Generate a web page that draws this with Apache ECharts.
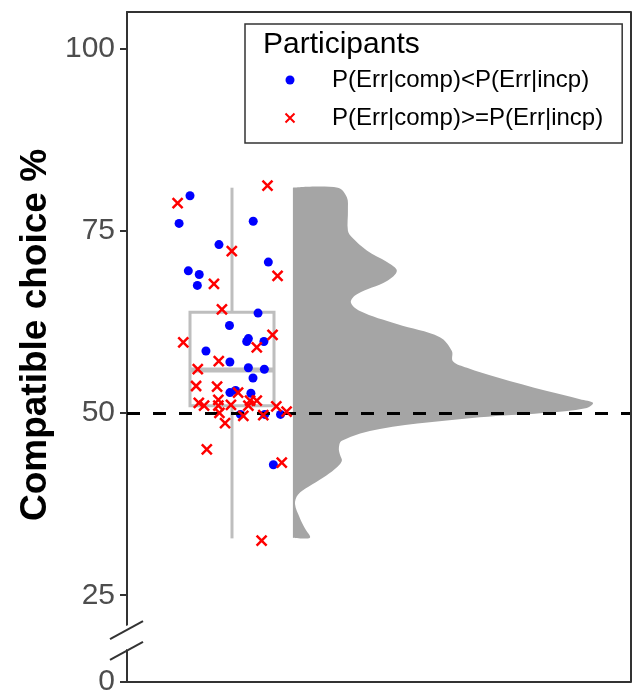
<!DOCTYPE html>
<html>
<head>
  <meta charset="utf-8">
  <title>Compatible choice</title>
  <script src="https://cdn.jsdelivr.net/npm/echarts@6/dist/echarts.min.js"></script>
</head>
<body style="margin:0">
<div id="main" style="width:635px;height:693px;"></div>
<script type="text/javascript">
  // y axis ticks
  var yTicks = [0, 25, 50, 75, 100];
  // axis break between 0 and 25
  var yBreak = { start: 4.4, end: 20.9, gap: 3.4 };

  // box: min, q1, median, q3, max
  var boxStats = [32.8, 51.0, 55.9, 63.8, 80.9];
  var boxCenter = 1;
  var boxHalf = 0.2;

  // participants, x = jittered position around 1
  var blueX = [0.800, 0.748, 1.101, 0.938, 1.173, 0.792, 0.844, 0.835, 1.124, 0.988, 1.078, 1.070, 1.152,
    0.876, 0.990, 1.078, 1.154, 1.100, 0.990, 1.017, 1.090, 1.231, 1.040, 1.156, 1.197];
  var blueY = [79.8, 76.0, 76.3, 73.1, 70.7, 69.5, 69.0, 67.5, 63.7, 62.0, 60.2, 59.8, 59.8,
    58.5, 57.0, 56.2, 56.0, 54.8, 52.8, 53.1, 52.7, 49.8, 49.8, 49.8, 42.9];
  var redX = [0.741, 1.169, 0.999, 1.217, 0.914, 0.952, 0.768, 1.193, 1.118, 0.937, 0.837, 0.829, 0.929,
    1.029, 0.842, 0.867, 0.935, 0.935, 0.995, 1.086, 1.118, 1.078, 1.211, 1.260, 0.940, 1.054, 1.149,
    0.967, 0.880, 1.237, 1.141];
  var redY = [78.8, 81.2, 72.2, 68.8, 67.7, 64.2, 59.7, 60.7, 59.0, 57.1, 56.0, 53.7, 53.6,
    52.8, 51.4, 51.0, 51.8, 51.0, 51.1, 51.7, 51.7, 51.0, 50.9, 50.2, 50.0, 49.6, 49.7,
    48.6, 45.0, 43.2, 32.5];

  // half violin (density width in x units)
  var violinBase = 1.29;
  var violinY = [80.9, 79.6, 77.8, 75.0, 74.1, 72.3, 70.7, 69.5, 68.1, 66.3, 65.2, 64.0, 62.2, 60.4,
    58.5, 57.1, 56.2, 54.9, 53.0, 51.9, 51.4, 50.7, 50.0, 49.4, 47.8, 46.2, 45.2, 44.3, 43.4, 42.3,
    41.1, 39.9, 38.8, 37.5, 35.6, 34.2, 32.9];
  var violinW = [0.214, 0.257, 0.262, 0.262, 0.281, 0.352, 0.448, 0.495, 0.448, 0.305, 0.276, 0.319, 0.495, 0.700,
    0.757, 0.762, 0.829, 0.971, 1.210, 1.367, 1.429, 1.400, 1.190, 0.890, 0.414, 0.233, 0.219, 0.224, 0.233, 0.200,
    0.143, 0.076, 0.024, 0.010, 0.033, 0.057, 0.081];

  var nameBlue = 'P(Err|comp)<P(Err|incp)';
  var nameRed = 'P(Err|comp)>=P(Err|incp)';
  var font = 'Liberation Sans, Arial, sans-serif';
  var crossPath = 'path://M0,0L10,10M10,0L0,10';
  var xMin = 0.5, xMax = 2.9, yMin = 0, yMax = 105;

  function pairs(xs, ys) {
    var out = [];
    for (var i = 0; i < xs.length; i++) out.push([xs[i], ys[i]]);
    return out;
  }

  var myChart = echarts.init(document.getElementById('main'));

  var option = {
    animation: false,
    title: {
      text: 'Participants',
      left: 258,
      top: 25,
      textStyle: { fontFamily: font, fontSize: 30, fontWeight: 'normal', color: '#000' }
    },
    legend: {
      data: [nameBlue, nameRed],
      orient: 'vertical',
      left: 245,
      top: 24,
      padding: [44, 19, 13, 38],
      itemWidth: 74,
      itemHeight: 9,
      itemGap: 14,
      borderColor: '#333',
      borderWidth: 1.5,
      textStyle: { fontFamily: font, fontSize: 24, color: '#000' }
    },
    grid: { left: 127, right: 4, top: 12, bottom: 11, outerBoundsMode: 'none' },
    xAxis: [{
      type: 'value', min: xMin, max: xMax,
      axisLine: { show: true, onZero: false, lineStyle: { color: '#333', width: 2 } },
      axisTick: { show: false }, axisLabel: { show: false }, splitLine: { show: false }
    }, {
      type: 'value', min: xMin, max: xMax, position: 'top',
      axisLine: { show: true, onZero: false, lineStyle: { color: '#333', width: 2 } },
      axisTick: { show: false }, axisLabel: { show: false }, splitLine: { show: false }
    }],
    yAxis: [{
      type: 'value', min: yMin, max: yMax,
      breaks: [yBreak],
      breakArea: {
        show: true,
        expandOnClick: false,
        zigzagAmplitude: 0,
        itemStyle: { color: '#fff', borderColor: '#fff', borderWidth: 0, opacity: 1 }
      },
      name: 'Compatible choice %',
      nameLocation: 'middle',
      nameRotate: 90,
      nameGap: 68,
      nameTextStyle: { fontFamily: font, fontSize: 37, fontWeight: 'bold', color: '#000', padding: [0, 0, 0, 24] },
      axisLine: { show: true, onZero: false, lineStyle: { color: '#333', width: 2 } },
      axisTick: { show: true, length: 7, customValues: yTicks, lineStyle: { color: '#333', width: 2 } },
      axisLabel: { customValues: yTicks, fontFamily: font, fontSize: 30, color: '#4d4d4d', margin: 12 },
      splitLine: { show: false }
    }, {
      type: 'value', min: yMin, max: yMax, position: 'right',
      axisLine: { show: false },
      axisTick: { show: false }, axisLabel: { show: false }, splitLine: { show: false }
    }],
    series: [
      {
        type: 'custom',
        name: 'density',
        z: 1,
        silent: true,
        data: [[violinBase, 50]],
        renderItem: function (params, api) {
          // outline from the base at the top, round the density, back to the base at the bottom;
          // the fill closes it along the straight base
          var pts = [api.coord([violinBase, violinY[0]])];
          for (var i = 0; i < violinY.length; i++) {
            pts.push(api.coord([violinBase + violinW[i], violinY[i]]));
          }
          pts.push(api.coord([violinBase, violinY[violinY.length - 1]]));
          return {
            type: 'polyline',
            shape: { points: pts, smooth: 0.35 },
            style: { fill: '#a5a5a5', stroke: null }
          };
        }
      },
      {
        type: 'custom',
        name: 'box',
        z: 2,
        silent: true,
        data: [[boxCenter, boxStats[2]]],
        renderItem: function (params, api) {
          var tl = api.coord([boxCenter - boxHalf, boxStats[3]]);
          var br = api.coord([boxCenter + boxHalf, boxStats[1]]);
          var mL = api.coord([boxCenter - boxHalf, boxStats[2]]);
          var mR = api.coord([boxCenter + boxHalf, boxStats[2]]);
          var wTop = api.coord([boxCenter, boxStats[4]]);
          var wLow = api.coord([boxCenter, boxStats[0]]);
          var st = { stroke: '#bebebe', lineWidth: 3, fill: null };
          return {
            type: 'group',
            children: [
              { type: 'line', shape: { x1: wTop[0], y1: wTop[1], x2: wTop[0], y2: tl[1] }, style: st },
              { type: 'line', shape: { x1: wLow[0], y1: br[1], x2: wLow[0], y2: wLow[1] }, style: st },
              { type: 'rect', shape: { x: tl[0], y: tl[1], width: br[0] - tl[0], height: br[1] - tl[1] }, style: st },
              { type: 'line', shape: { x1: mL[0], y1: mL[1], x2: mR[0], y2: mR[1] }, style: { stroke: '#bebebe', lineWidth: 5 } }
            ]
          };
        }
      },
      {
        type: 'line',
        name: 'chance',
        z: 3,
        data: [],
        markLine: {
          silent: true,
          symbol: 'none',
          label: { show: false },
          lineStyle: { color: '#000', width: 3, type: [13, 13] },
          data: [{ yAxis: 50 }]
        }
      },
      {
        type: 'scatter',
        name: nameBlue,
        z: 4,
        symbol: 'circle',
        symbolSize: 9,
        itemStyle: { color: '#0000ff', opacity: 1 },
        data: pairs(blueX, blueY)
      },
      {
        type: 'scatter',
        name: nameRed,
        z: 5,
        symbol: crossPath,
        symbolSize: 10,
        itemStyle: { color: 'none', borderColor: '#ff0000', borderWidth: 2.5, opacity: 1 },
        data: pairs(redX, redY)
      }
    ]
  };

  myChart.setOption(option);

  // right frame line and the "//" break marks on the y axis
  var axisX = myChart.convertToPixel({ xAxisIndex: 0 }, xMin);
  var rightX = myChart.convertToPixel({ xAxisIndex: 0 }, xMax);
  var topY = myChart.convertToPixel({ yAxisIndex: 0 }, yMax);
  var botY = myChart.convertToPixel({ yAxisIndex: 0 }, yMin);
  var gapTop = myChart.convertToPixel({ yAxisIndex: 0 }, yBreak.end);
  var gapBot = myChart.convertToPixel({ yAxisIndex: 0 }, yBreak.start);
  var slash = { stroke: '#333', lineWidth: 2 };
  myChart.setOption({
    graphic: [
      { type: 'line', z: 100, shape: { x1: rightX, y1: topY, x2: rightX, y2: botY }, style: { stroke: '#333', lineWidth: 2 } },
      { type: 'line', z: 100, shape: { x1: axisX - 17, y1: gapTop + 14, x2: axisX + 16, y2: gapTop - 4 }, style: slash },
      { type: 'line', z: 100, shape: { x1: axisX - 17, y1: gapBot + 10, x2: axisX + 16, y2: gapBot - 8 }, style: slash }
    ]
  });
</script>
</body>
</html>
